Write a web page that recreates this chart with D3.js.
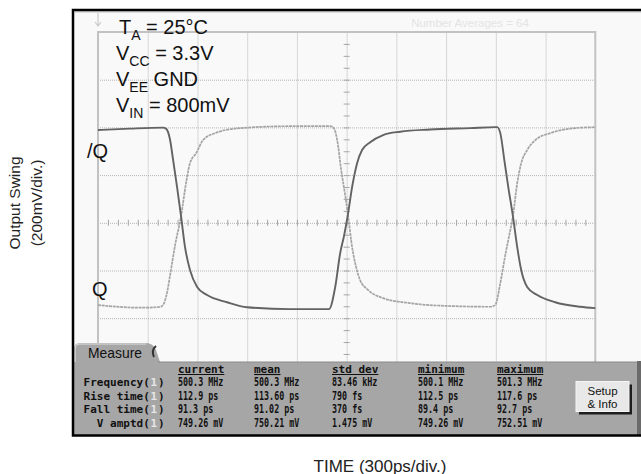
<!DOCTYPE html>
<html>
<head>
<meta charset="utf-8">
<script src="https://cdn.jsdelivr.net/npm/d3@7/dist/d3.min.js"></script>
<style>
    body { margin: 0; background: #fff; }
    svg { display: block; font-family: Arial, "Liberation Sans", sans-serif; }
    .mono { font-family: "DejaVu Sans Mono", "Liberation Mono", monospace; font-weight: bold; }
</style>
</head>
<body>
<svg id="chart" width="641" height="474"></svg>
<script>
// Grid values (ps and mV)
const timeGrid = [0, 300, 600, 900, 1200, 1500, 1800, 2100, 2400, 2700, 3000];
const voltGrid = [-800, -600, -400, -200, 0, 200, 400, 600, 800];

// /Q trace (dark)
const qBarTime = [0, 193, 392, 410, 435, 453, 477, 501, 525, 555, 598, 658, 779, 899, 1159, 1394,
    1431, 1461, 1485, 1506, 1533, 1563, 1593, 1642, 1720, 1823, 2004, 2245, 2396, 2408,
    2427, 2451, 2475, 2503, 2529, 2553, 2589, 2650, 2758, 2909, 3000];
const qBarVolt = [389, 395, 399, 395, 347, 264, 150, 28, -102, -198, -269, -303, -333, -354, -362, -362,
    -269, -127, -52, 28, 150, 250, 305, 338, 368, 382, 391, 397, 401, 401,
    376, 264, 150, 28, -102, -198, -269, -303, -333, -352, -358];

// Q trace (light)
const qTime = [0, 253, 374, 392, 416, 435, 465, 501, 531, 555, 592, 634, 706, 857, 1159, 1400,
    1418, 1443, 1467, 1491, 1509, 1533, 1557, 1581, 1630, 1720, 1883, 2125, 2366, 2396,
    2427, 2457, 2481, 2503, 2529, 2553, 2589, 2638, 2728, 2879, 3000];
const qVolt = [-345, -356, -353, -345, -295, -219, -94, 28, 166, 250, 292, 347, 376, 397, 405, 405,
    401, 347, 221, 116, 28, -102, -186, -240, -282, -316, -337, -349, -352, -345,
    -253, -135, -52, 28, 166, 250, 305, 347, 376, 397, 401];

// Conditions text
const conditions = [
    ["T", "A", " = 25°C"],
    ["V", "CC", " = 3.3V"],
    ["V", "EE", " GND"],
    ["V", "IN", " = 800mV"]
];

// Measurement table
const measureRows = ["Frequency", "Rise time", "Fall time", "  V amptd"];
const measureCols = ["current", "mean", "std dev", "minimum", "maximum"];
const measureValues = [
    ["500.3 MHz", "500.3 MHz", "83.46 kHz", "500.1 MHz", "501.3 MHz"],
    ["112.9 ps", "113.60 ps", "790 fs", "112.5 ps", "117.6 ps"],
    ["91.3 ps", "91.02 ps", "370 fs", "89.4 ps", "92.7 ps"],
    ["749.26 mV", "750.21 mV", "1.475 mV", "749.26 mV", "752.51 mV"]
];

const svg = d3.select("#chart");

const x = d3.scaleLinear().domain([0, 3000]).range([98, 595.3]);
const y = d3.scaleLinear().domain([-800, 800]).range([413.6, 32]);

// Screen background inside the frame
svg.append("rect")
    .attr("x", 73).attr("y", 10)
    .attr("width", 570).attr("height", 426)
    .attr("fill", "#f9f9f9");

// Trigger marker
svg.append("path")
    .attr("d", "M98,13 V26 M95,22 L98,26 L101,22")
    .attr("stroke", "#cccccc").attr("stroke-width", 1.2).attr("fill", "none");

svg.append("text")
    .attr("x", 470).attr("y", 27)
    .attr("text-anchor", "middle")
    .attr("font-size", 11.5)
    .attr("fill", "#e4e4e4")
    .text("Number Averages  = 64");

// Graticule
const plotH = y(-800) - y(800);
const plotW = x(3000) - x(0);

const gx = svg.append("g")
    .attr("transform", `translate(0,${y(-800)})`)
    .call(d3.axisBottom(x).tickValues(timeGrid.slice(1, -1)).tickSize(-plotH).tickFormat(""));
const gy = svg.append("g")
    .attr("transform", `translate(${x(0)},0)`)
    .call(d3.axisLeft(y).tickValues(voltGrid.slice(1, -1)).tickSize(-plotW).tickFormat(""));
[gx, gy].forEach(g => {
    g.select(".domain").remove();
    g.selectAll("line")
        .attr("stroke", "#b4b4b4")
        .attr("stroke-width", 1)
        .attr("stroke-dasharray", "1,1");
});

// Minor ticks on the centre lines
const centerX = svg.append("g")
    .attr("transform", `translate(0,${y(0) - 3})`)
    .call(d3.axisBottom(x).tickValues(d3.range(60, 3000, 60)).tickSize(6).tickFormat(""));
const centerY = svg.append("g")
    .attr("transform", `translate(${x(1500) + 3},0)`)
    .call(d3.axisLeft(y).tickValues(d3.range(-750, 800, 50)).tickSize(6).tickFormat(""));
[centerX, centerY].forEach(g => {
    g.select(".domain").remove();
    g.selectAll("line").attr("stroke", "#a6a6a6").attr("stroke-width", 1);
});

svg.append("rect")
    .attr("x", x(0)).attr("y", y(800))
    .attr("width", plotW).attr("height", plotH)
    .attr("fill", "none")
    .attr("stroke", "#c2c2c2")
    .attr("stroke-width", 2);

// Traces
const line = d3.line()
    .x(d => x(d[0]))
    .y(d => y(d[1]))
    .curve(d3.curveMonotoneX);

svg.append("path")
    .datum(d3.zip(qTime, qVolt))
    .attr("d", line)
    .attr("fill", "none")
    .attr("stroke", "#a4a4a4")
    .attr("stroke-width", 1.7)
    .attr("stroke-dasharray", "3,0.7");

svg.append("path")
    .datum(d3.zip(qBarTime, qBarVolt))
    .attr("d", line)
    .attr("fill", "none")
    .attr("stroke", "#636363")
    .attr("stroke-width", 1.9);

// Conditions
conditions.forEach((c, i) => {
    const t = svg.append("text")
        .attr("x", i === 0 ? 119 : 116)
        .attr("y", 34 + i * 26)
        .attr("font-size", 20)
        .attr("fill", "#111");
    t.append("tspan").text(c[0]);
    t.append("tspan").attr("font-size", 14).attr("dy", 6).text(c[1]);
    t.append("tspan").attr("dy", -6).text(c[2]);
});

// Trace labels
svg.append("text").attr("x", 87).attr("y", 157.5).attr("font-size", 20).attr("fill", "#111").text("/Q");
svg.append("text").attr("x", 92).attr("y", 296).attr("font-size", 20).attr("fill", "#111").text("Q");

// Measure panel
const panelFill = "#a6a6a6";
svg.append("path")
    .attr("d", "M74,364 V349 Q74,343 80,343 H146 Q153,343 156,350 L160,362 H637 V435 H74 Z")
    .attr("fill", panelFill);
svg.append("path")
    .attr("d", "M75,362 V349 Q75,344 80,344 H146")
    .attr("fill", "none").attr("stroke", "#e0e0e0").attr("stroke-width", 1.2);
svg.append("path")
    .attr("d", "M156,346 Q151,350 154,357")
    .attr("fill", "none").attr("stroke", "#333").attr("stroke-width", 2);
svg.append("line")
    .attr("x1", 158).attr("x2", 637).attr("y1", 362).attr("y2", 362)
    .attr("stroke", "#8a8a8a").attr("stroke-width", 1);
svg.append("rect")
    .attr("x", 637).attr("y", 361).attr("width", 4).attr("height", 75)
    .attr("fill", "#6a6a6a");

svg.append("text")
    .attr("x", 88).attr("y", 357.5)
    .attr("font-size", 15)
    .attr("textLength", 54)
    .attr("lengthAdjust", "spacingAndGlyphs")
    .attr("fill", "#111")
    .text("Measure");

const labelSize = 11;
const charW = 0.602 * labelSize;   // advance of one label character

function monoText(str, px, py, size) {
    return svg.append("text")
        .attr("class", "mono")
        .attr("x", px).attr("y", py)
        .attr("font-size", size)
        .attr("fill", "#111")
        .text(str);
}

// Values: squeezed to the narrow oscilloscope digits
function valueText(str, px, py) {
    const t = monoText(str, px, py, 12.3);
    const w = t.node().getComputedTextLength() * 0.68;
    return t.attr("textLength", w).attr("lengthAdjust", "spacingAndGlyphs");
}

const colX = [178, 254, 332, 418, 497];
const rowY = [386, 399.5, 413, 426.5];

measureCols.forEach((c, j) => {
    const t = monoText(c, colX[j], 372.5, labelSize);
    svg.append("line")
        .attr("x1", colX[j]).attr("x2", colX[j] + t.node().getComputedTextLength())
        .attr("y1", 374.5).attr("y2", 374.5)
        .attr("stroke", "#111").attr("stroke-width", 1.2);
});

measureRows.forEach((r, i) => {
    const name = r.trimStart();
    const lead = r.length - name.length;
    monoText(name + "(", 86 + lead * charW - 2.4, rowY[i], labelSize);
    monoText("1", 86 + (r.length + 1) * charW - 1.6, rowY[i], labelSize).attr("fill", "#e6e6e6");
    monoText(")", 86 + (r.length + 2) * charW - 0.8, rowY[i], labelSize);
    measureValues[i].forEach((v, j) => {
        valueText(v, colX[j], rowY[i]);
    });
});

// Setup & Info button
svg.append("rect")
    .attr("x", 579).attr("y", 384.5).attr("width", 53).attr("height", 30)
    .attr("fill", "#1e1e1e");
svg.append("rect")
    .attr("x", 576).attr("y", 381.5).attr("width", 53).attr("height", 30)
    .attr("fill", "#e8e8e8")
    .attr("stroke", "#f6f6f6").attr("stroke-width", 1);
["Setup", "& Info"].forEach((s, i) => {
    svg.append("text")
        .attr("x", 602.5).attr("y", 394.5 + i * 13.5)
        .attr("text-anchor", "middle")
        .attr("font-size", 11.5)
        .attr("fill", "#111")
        .text(s);
});

// Frame
svg.append("path")
    .attr("d", "M641,10 H73 V435.5 H641")
    .attr("fill", "none")
    .attr("stroke", "#000")
    .attr("stroke-width", 2.5);
svg.append("line")
    .attr("x1", 74).attr("x2", 641).attr("y1", 11.8).attr("y2", 11.8)
    .attr("stroke", "#9a9a9a").attr("stroke-width", 1);

// Axis titles
svg.append("text")
    .attr("transform", "translate(19.5,203) rotate(-90)")
    .attr("text-anchor", "middle")
    .attr("font-size", 15.5)
    .attr("fill", "#222")
    .text("Output Swing");
svg.append("text")
    .attr("transform", "translate(42,203) rotate(-90)")
    .attr("text-anchor", "middle")
    .attr("font-size", 15.5)
    .attr("fill", "#222")
    .text("(200mV/div.)");
svg.append("text")
    .attr("x", 380).attr("y", 471.5)
    .attr("text-anchor", "middle")
    .attr("font-size", 17)
    .attr("fill", "#222")
    .text("TIME (300ps/div.)");
</script>
</body>
</html>
